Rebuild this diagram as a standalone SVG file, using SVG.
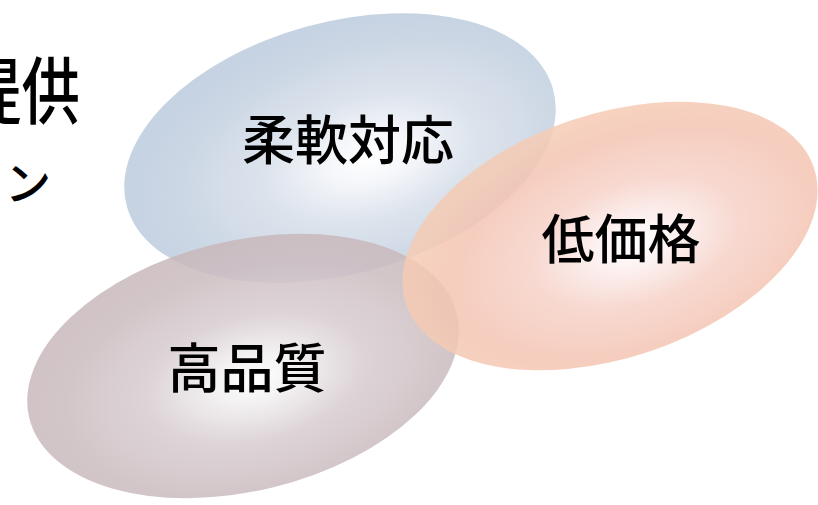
<svg xmlns="http://www.w3.org/2000/svg" width="818" height="505" viewBox="0 0 818 505">
  <defs>
    <radialGradient id="gBlue" cx="0.56" cy="0.57" r="0.55">
      <stop offset="0" stop-color="#ffffff"/>
      <stop offset="0.16" stop-color="#f4f6fa"/>
      <stop offset="0.45" stop-color="#d6dee9"/>
      <stop offset="0.8" stop-color="#c3d0e0"/>
      <stop offset="1" stop-color="#bccbdd"/>
    </radialGradient>
    <radialGradient id="gGray" cx="0.52" cy="0.56" r="0.55">
      <stop offset="0" stop-color="#ffffff"/>
      <stop offset="0.16" stop-color="#f2f0f1"/>
      <stop offset="0.45" stop-color="#d8cdd0"/>
      <stop offset="0.8" stop-color="#cbbcc0"/>
      <stop offset="1" stop-color="#c8b8bb"/>
    </radialGradient>
    <radialGradient id="gOrange" cx="0.55" cy="0.56" r="0.55">
      <stop offset="0" stop-color="#ffffff"/>
      <stop offset="0.16" stop-color="#fcf0f0"/>
      <stop offset="0.45" stop-color="#f6d2c8"/>
      <stop offset="0.8" stop-color="#f4c4b2"/>
      <stop offset="1" stop-color="#f5cbb4"/>
    </radialGradient>
  </defs>
  <style>
    .lbl { font-family: "Noto Sans CJK JP", "Noto Sans CJK SC", sans-serif; font-weight: 500; fill: #000000; }
    .node { font-size: 53px; text-anchor: middle; }
    .blob { fill-opacity: 0.85; }
  </style>
  <rect x="0" y="0" width="818" height="505" fill="#ffffff"/>
  <g id="title">
    <text class="lbl" font-size="73" text-anchor="end" transform="translate(80,118) scale(0.8,1)">提供</text>
    <text class="lbl" font-size="46" text-anchor="end" x="51" y="200">ョン</text>
  </g>
  <g id="connectors"/>
  <g id="node-flexible">
    <ellipse class="blob" cx="340" cy="148" rx="221" ry="126" transform="rotate(-15.3 340 148)" fill="url(#gBlue)"/>
  </g>
  <g id="node-quality">
    <ellipse class="blob" cx="243" cy="366" rx="220" ry="125" transform="rotate(-13.7 243 366)" fill="url(#gGray)"/>
  </g>
  <g id="node-price">
    <ellipse class="blob" cx="610" cy="236" rx="215" ry="122" transform="rotate(-18.5 610 236)" fill="url(#gOrange)"/>
  </g>
  <g id="labels">
    <text class="lbl node" x="348" y="160">柔軟対応</text>
    <text class="lbl node" x="621" y="259">低価格</text>
    <text class="lbl node" x="247" y="388">高品質</text>
  </g>
</svg>
